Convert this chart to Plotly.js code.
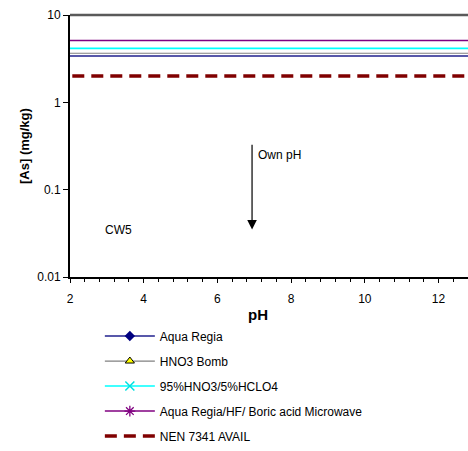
<!DOCTYPE html>
<html>
<head>
<meta charset="utf-8">
<script src="https://cdn.plot.ly/plotly-3.0.1.min.js"></script>
<style>html,body{margin:0;padding:0;background:#fff;}#chart{width:468px;height:451px;}</style>
</head>
<body>
<div id="chart"></div>
<script>
// Data (horizontal reference levels over the pH range)
const seriesNames = ["Aqua Regia", "HNO3 Bomb", "95%HNO3/5%HCLO4", "Aqua Regia/HF/ Boric acid Microwave", "NEN 7341 AVAIL"];
const phRange = [0, 14];
const aquaRegia = [3.4, 3.4];
const hno3Bomb = [3.65, 3.65];
const hno3Hclo4 = [4.15, 4.15];
const aquaRegiaHF = [5.1, 5.1];
const nen7341 = [2.0, 2.0];
const xTicks = [2, 4, 6, 8, 10, 12];
const yTicks = [0.01, 0.1, 1, 10];
const yTickText = ["0.01", "0.1", "1", "10"];
const arrowX = 6.94, arrowTop = 0.34, arrowTip = 0.035;

const font = "Liberation Sans, Arial, sans-serif";
const traces = [
  {x: phRange, y: aquaRegia, name: seriesNames[0], mode: "lines+markers", legendgroup: "a",
   line: {color: "#5858aa", width: 2}, marker: {symbol: "diamond", color: "#000080", size: 8}},
  {x: phRange, y: hno3Bomb, name: seriesNames[1], mode: "lines+markers", legendgroup: "b",
   line: {color: "#808080", width: 1.2}, marker: {symbol: "triangle-up", color: "#ffff00", size: 8, line: {color: "#000", width: 1}}},
  {x: phRange, y: hno3Hclo4, name: seriesNames[2], mode: "lines+markers", legendgroup: "c",
   line: {color: "#00ffff", width: 1.6}, marker: {symbol: "x-thin-open", color: "#00e0e0", size: 9, line: {color: "#00e0e0", width: 1.5}}},
  {x: phRange, y: aquaRegiaHF, name: seriesNames[3], mode: "lines+markers", legendgroup: "d",
   line: {color: "#800080", width: 1.4}, marker: {symbol: "asterisk-open", color: "#800080", size: 9, line: {color: "#800080", width: 1.3}}},
  {x: phRange, y: nen7341, name: seriesNames[4], mode: "lines", legendgroup: "e",
   line: {color: "#800000", width: 3.5, dash: "12px,7px"}}
];

const layout = {
  width: 468, height: 451,
  margin: {l: 70, r: 0, t: 15, b: 174},
  paper_bgcolor: "#fff", plot_bgcolor: "#fff",
  font: {family: font, size: 12, color: "#000"},
  showlegend: true,
  legend: {x: 0.075, y: -0.17, xanchor: "left", yanchor: "top", tracegroupgap: 6,
           itemwidth: 50, font: {family: font, size: 12, color: "#000"}, bgcolor: "rgba(0,0,0,0)"},
  xaxis: {range: [2, 12.8], tickvals: xTicks, ticks: "outside", ticklen: 4, tickwidth: 1, tickcolor: "#000",
          ticklabelstandoff: 6,
          showline: true, linecolor: "#000", linewidth: 1.5, showgrid: false, zeroline: false,
          minor: {dtick: 0.4, tick0: 2, ticks: "outside", ticklen: 3, tickcolor: "#000", showgrid: false},
          tickfont: {family: font, size: 12, color: "#000"}},
  yaxis: {type: "log", range: [-2, 1], tickvals: yTicks, ticktext: yTickText, ticks: "outside", ticklen: 5,
          tickcolor: "#000", showline: true, linecolor: "#000", linewidth: 2, showgrid: false, zeroline: false,
          tickfont: {family: font, size: 12, color: "#000"}},
  shapes: [{type: "line", xref: "paper", yref: "paper", x0: 0, x1: 1, y0: 1, y1: 1,
            line: {color: "#5a5a5a", width: 2.5}}],
  annotations: [
    {xref: "x", yref: "y", x: arrowX, y: Math.log10(arrowTip), axref: "x", ayref: "y",
     ax: arrowX, ay: Math.log10(arrowTop), showarrow: true, arrowhead: 2, arrowsize: 1.6, arrowwidth: 1.2,
     arrowcolor: "#000", text: ""},
    {xref: "x", yref: "y", x: 7.05, y: -0.6, text: "Own pH", showarrow: false, xanchor: "left", yanchor: "middle",
     font: {family: font, size: 12, color: "#000"}},
    {xref: "x", yref: "y", x: 2.9, y: -1.457, text: "CW5", showarrow: false, xanchor: "left", yanchor: "middle",
     font: {family: font, size: 12, color: "#000"}},
    {xref: "paper", yref: "paper", x: 0.472, y: -0.145, text: "<b>pH</b>", showarrow: false, xanchor: "center", yanchor: "middle",
     font: {family: font, size: 15, color: "#000"}},
    {xref: "paper", yref: "paper", x: -0.1156, y: 0.5, text: "<b>[As] (mg/kg)</b>", showarrow: false, textangle: -90,
     xanchor: "center", yanchor: "middle", font: {family: font, size: 13, color: "#000"}}
  ]
};
Plotly.newPlot("chart", traces, layout, {displayModeBar: false, staticPlot: true});
</script>
</body>
</html>
